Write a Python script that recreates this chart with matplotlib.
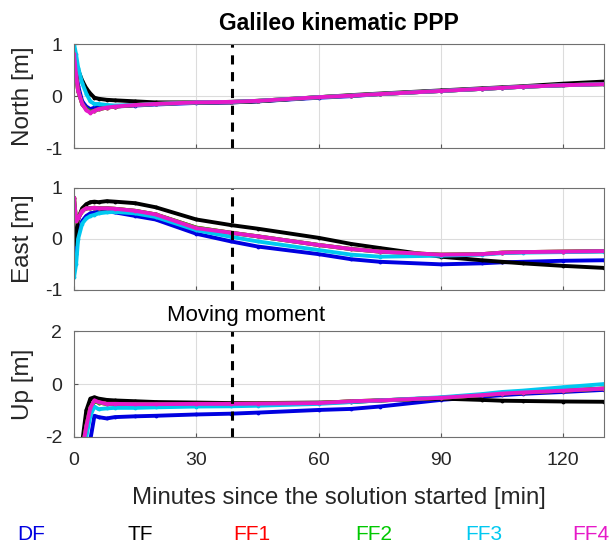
import matplotlib.pyplot as plt
import numpy as np

plt.rcParams['font.family'] = ['Liberation Sans', 'DejaVu Sans']
plt.rcParams['axes.unicode_minus'] = False

# values (minutes, metres)
t = [0, 0.5, 1, 2, 3, 4, 5, 6, 8, 10, 15, 20, 30, 38.5, 45, 60, 68, 75, 90, 100, 105, 110, 120, 130]

north_df  = [0.9, 0.5, 0.2, -0.1, -0.2, -0.25, -0.22, -0.2, -0.2, -0.2, -0.18, -0.16, -0.13, -0.12, -0.1, -0.03, 0.0, 0.04, 0.1, 0.14, 0.16, 0.18, 0.21, 0.24]
north_tf  = [0.8, 0.65, 0.5, 0.3, 0.15, 0.05, -0.03, -0.05, -0.07, -0.08, -0.1, -0.12, -0.12, -0.12, -0.1, -0.02, 0.02, 0.05, 0.11, 0.15, 0.17, 0.19, 0.24, 0.28]
north_ff1 = [0.8, 0.4, 0.1, -0.15, -0.25, -0.3, -0.28, -0.25, -0.22, -0.2, -0.17, -0.15, -0.12, -0.11, -0.09, -0.02, 0.01, 0.04, 0.1, 0.14, 0.16, 0.18, 0.21, 0.23]
north_ff2 = [0.8, 0.4, 0.1, -0.15, -0.25, -0.3, -0.28, -0.25, -0.22, -0.2, -0.17, -0.15, -0.12, -0.11, -0.09, -0.02, 0.01, 0.04, 0.1, 0.14, 0.16, 0.18, 0.21, 0.23]
north_ff3 = [1.0, 0.8, 0.55, 0.25, 0.05, -0.1, -0.15, -0.15, -0.17, -0.18, -0.17, -0.15, -0.12, -0.11, -0.09, -0.02, 0.01, 0.04, 0.1, 0.14, 0.16, 0.18, 0.21, 0.23]
north_ff4 = [0.8, 0.4, 0.1, -0.15, -0.27, -0.32, -0.28, -0.25, -0.22, -0.2, -0.17, -0.15, -0.12, -0.11, -0.09, -0.02, 0.01, 0.04, 0.1, 0.14, 0.16, 0.18, 0.21, 0.23]

east_df  = [0.0, -0.3, 0.1, 0.35, 0.45, 0.5, 0.52, 0.53, 0.54, 0.52, 0.45, 0.38, 0.1, -0.05, -0.15, -0.3, -0.4, -0.45, -0.5, -0.48, -0.46, -0.45, -0.43, -0.42]
east_tf  = [-0.1, 0.1, 0.4, 0.6, 0.68, 0.72, 0.73, 0.72, 0.74, 0.73, 0.7, 0.62, 0.38, 0.27, 0.2, 0.02, -0.1, -0.18, -0.35, -0.42, -0.45, -0.48, -0.53, -0.57]
east_ff1 = [0.8, 0.35, 0.4, 0.55, 0.6, 0.6, 0.61, 0.6, 0.6, 0.59, 0.55, 0.48, 0.22, 0.12, 0.05, -0.12, -0.2, -0.25, -0.31, -0.3, -0.27, -0.26, -0.25, -0.24]
east_ff2 = [0.8, 0.35, 0.4, 0.55, 0.6, 0.6, 0.61, 0.6, 0.6, 0.59, 0.55, 0.48, 0.22, 0.12, 0.05, -0.12, -0.2, -0.25, -0.31, -0.3, -0.27, -0.26, -0.25, -0.24]
east_ff3 = [-0.75, -0.5, 0.0, 0.3, 0.4, 0.45, 0.47, 0.5, 0.52, 0.53, 0.5, 0.43, 0.17, 0.04, -0.05, -0.22, -0.31, -0.35, -0.33, -0.31, -0.28, -0.27, -0.26, -0.25]
east_ff4 = [0.8, 0.35, 0.4, 0.55, 0.6, 0.6, 0.61, 0.6, 0.6, 0.59, 0.55, 0.48, 0.21, 0.12, 0.05, -0.12, -0.2, -0.25, -0.31, -0.3, -0.27, -0.26, -0.25, -0.24]

up_df  = [-2.5, -2.5, -2.5, -2.5, -2.5, -2.1, -1.2, -1.25, -1.3, -1.25, -1.22, -1.2, -1.15, -1.12, -1.08, -0.98, -0.94, -0.85, -0.6, -0.48, -0.42, -0.37, -0.3, -0.22]
up_tf  = [-2.5, -2.5, -2.5, -2.2, -1.0, -0.55, -0.5, -0.55, -0.6, -0.62, -0.65, -0.68, -0.7, -0.72, -0.72, -0.7, -0.68, -0.62, -0.55, -0.6, -0.63, -0.64, -0.66, -0.67]
up_ff1 = [-2.5, -2.5, -2.5, -2.5, -1.6, -0.9, -0.65, -0.7, -0.75, -0.75, -0.76, -0.76, -0.75, -0.75, -0.74, -0.72, -0.65, -0.62, -0.52, -0.42, -0.36, -0.32, -0.25, -0.17]
up_ff2 = [-2.5, -2.5, -2.5, -2.5, -1.6, -0.9, -0.65, -0.7, -0.75, -0.75, -0.76, -0.76, -0.75, -0.75, -0.74, -0.72, -0.65, -0.62, -0.52, -0.42, -0.36, -0.32, -0.25, -0.17]
up_ff3 = [-2.5, -2.5, -2.5, -2.5, -2.0, -1.2, -0.85, -0.95, -0.92, -0.9, -0.9, -0.88, -0.85, -0.84, -0.82, -0.75, -0.68, -0.62, -0.5, -0.38, -0.3, -0.25, -0.12, 0.0]
up_ff4 = [-2.5, -2.5, -2.5, -2.5, -1.6, -0.9, -0.62, -0.68, -0.75, -0.75, -0.76, -0.76, -0.75, -0.75, -0.74, -0.72, -0.65, -0.62, -0.52, -0.42, -0.36, -0.32, -0.25, -0.17]

names = ['DF', 'TF', 'FF1', 'FF2', 'FF3', 'FF4']
colors = ['#0000e0', '#000000', '#ff0000', '#00c800', '#00c8f0', '#e619c8']
move_t = 38.7

panels = [
    ('North [m]', [north_df, north_tf, north_ff1, north_ff2, north_ff3, north_ff4], (-1, 1), [-1, 0, 1]),
    ('East [m]', [east_df, east_tf, east_ff1, east_ff2, east_ff3, east_ff4], (-1, 1), [-1, 0, 1]),
    ('Up [m]', [up_df, up_tf, up_ff1, up_ff2, up_ff3, up_ff4], (-2, 2), [-2, 0, 2]),
]
boxes = [[0.121, 0.731, 0.866, 0.189],
         [0.121, 0.474, 0.866, 0.185],
         [0.121, 0.207, 0.866, 0.192]]

fig = plt.figure(figsize=(6.12, 5.51), dpi=100)
for i, (label, series, ylim, yt) in enumerate(panels):
    ax = fig.add_axes(boxes[i])
    for y, c in zip(series, colors):
        ax.plot(t, y, color=c, lw=2.8, marker='.', ms=3.5)
    ax.axvline(move_t, color='k', ls=(0, (3, 2.5)), lw=2.2)
    ax.set_xlim(0, 130)
    ax.set_ylim(*ylim)
    ax.set_yticks(yt)
    ax.set_xticks([0, 30, 60, 90, 120])
    ax.grid(True, color='#dcdcdc', lw=0.8)
    ax.set_axisbelow(True)
    ax.tick_params(direction='in', labelsize=14, length=3, color='#555555',
                   labelcolor='#262626')
    ax.tick_params(axis='y', pad=8.5)
    ax.tick_params(axis='x', pad=11)
    for s in ax.spines.values():
        s.set_color('#707070')
    ax.set_ylabel(label, fontsize=17.5, labelpad=8, color='#262626')
    if i < 2:
        ax.set_xticklabels([])
    if i == 0:
        ax.set_title('Galileo kinematic PPP', fontsize=16.5, fontweight='bold', pad=10)
    if i == 2:
        ax.set_xlabel('Minutes since the solution started [min]', fontsize=17.3,
                      labelpad=13, color='#262626')
        ax.text(move_t + 3.5, 2.2, 'Moving moment', ha='center', va='bottom', fontsize=16)

xs = [0.029, 0.209, 0.381, 0.58, 0.76, 0.935]
for x, n, c in zip(xs, names, colors):
    fig.text(x, 0.012, n, color=c, fontsize=15, ha='left', va='bottom')

fig.savefig('out.png', dpi=100)
